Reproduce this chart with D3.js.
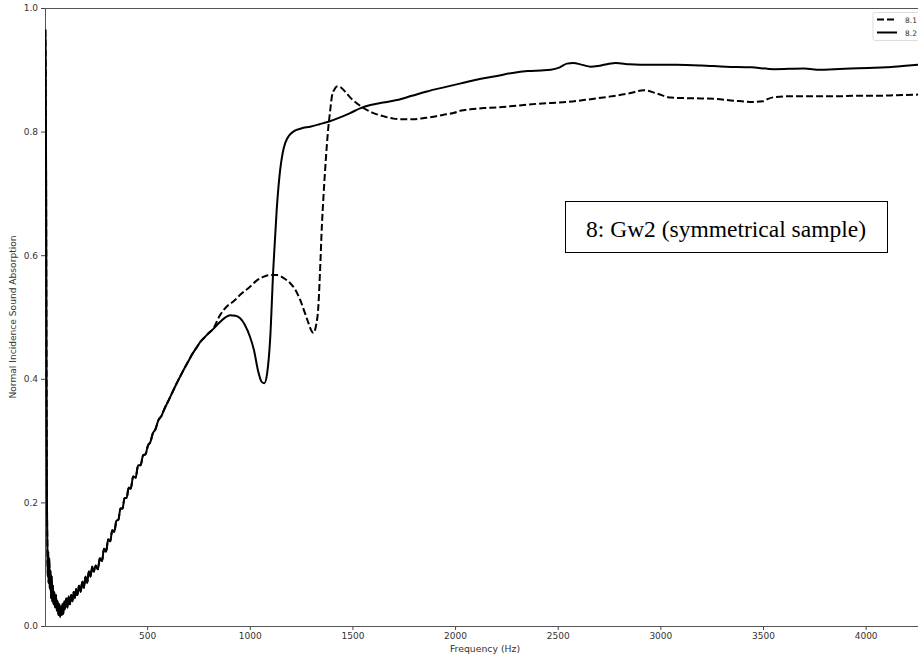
<!DOCTYPE html>
<html>
<head>
<meta charset="utf-8">
<script src="https://cdn.jsdelivr.net/npm/d3@7/dist/d3.min.js"></script>
<style>
  html, body { margin: 0; padding: 0; background: #fff; }
  svg { display: block; }
  .tick text { font-family: "DejaVu Sans", sans-serif; font-size: 9px; fill: #333; }
</style>
</head>
<body>
<svg id="chart" width="918" height="660"></svg>
<script>
// Low-frequency part, common to both measurements (Hz, absorption coefficient)
const sharedFreq = [4, 6, 8, 10, 12, 14, 16, 18, 20, 23, 26, 29, 32, 35, 38, 41, 44, 48, 52, 56, 60, 64, 68, 72, 76, 80, 84, 88, 92, 96,
  100, 106, 112, 118, 124, 130, 136, 142, 148, 154, 160, 168, 176, 184, 192, 200, 208, 216, 224, 232, 240, 250, 260, 270, 280, 290,
  300, 310, 320, 330, 340, 350, 360, 370, 380, 390, 400, 410, 420, 432, 444, 456, 468, 480, 492, 504, 516, 528, 540, 555, 570, 585,
  600, 620, 640, 660, 680, 700, 720, 740, 760, 780, 800, 820];
const sharedAbs = [0.965, 0.90, 0.70, 0.40, 0.20, 0.13, 0.08, 0.12, 0.07, 0.11, 0.06, 0.09, 0.045, 0.08, 0.04, 0.065, 0.035, 0.055, 0.03, 0.05,
  0.025, 0.04, 0.018, 0.035, 0.015, 0.032, 0.018, 0.036, 0.02, 0.04, 0.028, 0.045, 0.03, 0.048, 0.035, 0.05, 0.04, 0.055, 0.045, 0.06,
  0.05, 0.065, 0.055, 0.072, 0.062, 0.08, 0.07, 0.088, 0.08, 0.096, 0.088, 0.098, 0.092, 0.11, 0.105, 0.125, 0.12, 0.14, 0.137, 0.155,
  0.152, 0.17, 0.172, 0.19, 0.19, 0.207, 0.207, 0.224, 0.222, 0.242, 0.24, 0.26, 0.26, 0.276, 0.278, 0.292, 0.298, 0.312, 0.318, 0.333,
  0.34, 0.352, 0.362, 0.376, 0.39, 0.403, 0.416, 0.428, 0.44, 0.45, 0.46, 0.467, 0.474, 0.48];

// Sample 8.1 above 820 Hz
const s81Freq = [855, 888, 920, 960, 1001, 1030, 1066, 1100, 1131, 1165, 1196, 1220, 1245, 1265, 1286, 1300, 1310, 1322, 1334, 1343,
  1351, 1359, 1367, 1375, 1383, 1392, 1400, 1412, 1424, 1440, 1464, 1490, 1521, 1560, 1602, 1650, 1700, 1750, 1797, 1850, 1895, 1940,
  1992, 2030, 2073, 2140, 2204, 2300, 2400, 2549, 2650, 2759, 2850, 2920, 2980, 3051, 3150, 3261, 3360, 3456, 3500, 3525, 3560, 3603,
  3700, 3847, 3950, 4050, 4150, 4256, 4300];
const s81Abs = [0.503, 0.517, 0.525, 0.538, 0.549, 0.558, 0.565, 0.568, 0.568, 0.563, 0.555, 0.545, 0.528, 0.51, 0.49, 0.478, 0.474, 0.485,
  0.517, 0.58, 0.646, 0.695, 0.738, 0.776, 0.808, 0.835, 0.857, 0.868, 0.873, 0.872, 0.865, 0.855, 0.846, 0.837, 0.83, 0.825, 0.821,
  0.82, 0.82, 0.822, 0.824, 0.827, 0.83, 0.834, 0.836, 0.838, 0.839, 0.842, 0.845, 0.848, 0.852, 0.857, 0.862, 0.867, 0.862, 0.855,
  0.854, 0.853, 0.85, 0.848, 0.849, 0.853, 0.856, 0.857, 0.857, 0.857, 0.858, 0.858, 0.859, 0.86, 0.861];

// Sample 8.2 above 820 Hz
const s82Freq = [855, 880, 904, 930, 953, 975, 1001, 1020, 1041, 1058, 1071, 1085, 1099, 1115, 1131, 1148, 1160, 1172, 1190, 1212, 1250,
  1294, 1340, 1383, 1440, 1489, 1540, 1588, 1650, 1716, 1790, 1863, 1950, 2041, 2120, 2204, 2280, 2354, 2420, 2466, 2510, 2545, 2575,
  2620, 2660, 2695, 2740, 2783, 2850, 2954, 3080, 3198, 3320, 3442, 3554, 3700, 3780, 3847, 3930, 4012, 4100, 4180, 4256, 4300];
const s82Abs = [0.492, 0.499, 0.503, 0.502, 0.498, 0.488, 0.468, 0.447, 0.412, 0.395, 0.393, 0.41, 0.463, 0.581, 0.673, 0.738, 0.765,
  0.781, 0.793, 0.8, 0.805, 0.808, 0.812, 0.816, 0.823, 0.83, 0.838, 0.843, 0.847, 0.851, 0.858, 0.865, 0.872, 0.879, 0.885, 0.89,
  0.895, 0.898, 0.899, 0.9, 0.904, 0.91, 0.911, 0.908, 0.905, 0.906, 0.909, 0.911, 0.909, 0.908, 0.908, 0.907, 0.905, 0.904, 0.901,
  0.902, 0.9, 0.901, 0.902, 0.903, 0.904, 0.906, 0.908, 0.909];

const seriesNames = ["8.1", "8.2"];
const xTicks = [500, 1000, 1500, 2000, 2500, 3000, 3500, 4000];
const yTicks = [0.0, 0.2, 0.4, 0.6, 0.8, 1.0];
const titleText = "8: Gw2 (symmetrical sample)";

const toPoints = (fs, vs) => fs.map((f, i) => ({ f, v: vs[i] }));
const series = [
  { name: seriesNames[0], dash: "7,3", points: toPoints(sharedFreq.concat(s81Freq), sharedAbs.concat(s81Abs)) },
  { name: seriesNames[1], dash: null, points: toPoints(sharedFreq.concat(s82Freq), sharedAbs.concat(s82Abs)) }
];

const W = 918, H = 660;
const plotLeft = 45, plotTop = 8, plotBottom = 626;
const svg = d3.select("#chart");

const x = d3.scaleLinear().domain([0, 4260]).range([44.5, 919]);
const y = d3.scaleLinear().domain([0, 1]).range([plotBottom, plotTop]);

svg.append("defs").append("clipPath").attr("id", "plot-clip")
  .append("rect").attr("x", plotLeft).attr("y", plotTop).attr("width", W - plotLeft).attr("height", plotBottom - plotTop);

// Axes
const xAxis = svg.append("g").attr("transform", `translate(0,${plotBottom})`)
  .call(d3.axisBottom(x).tickValues(xTicks).tickSize(4).tickPadding(3).tickFormat(d3.format("d")));
const yAxis = svg.append("g").attr("transform", `translate(${plotLeft},0)`)
  .call(d3.axisLeft(y).tickValues(yTicks).tickSize(4).tickPadding(3).tickFormat(d3.format(".1f")));
[xAxis, yAxis].forEach(g => {
  g.select(".domain").remove();
  g.selectAll(".tick line").attr("stroke", "#444");
});

// Spines (left, top, bottom)
const spine = svg.append("g").attr("stroke", "#555").attr("stroke-width", 1).attr("shape-rendering", "crispEdges");
spine.append("line").attr("x1", plotLeft).attr("x2", plotLeft).attr("y1", plotTop).attr("y2", plotBottom);
spine.append("line").attr("x1", plotLeft).attr("x2", W).attr("y1", plotTop).attr("y2", plotTop);
spine.append("line").attr("x1", plotLeft).attr("x2", W).attr("y1", plotBottom).attr("y2", plotBottom);

// Axis titles
svg.append("text").attr("x", 485).attr("y", 652).attr("text-anchor", "middle")
  .attr("font-family", "DejaVu Sans, sans-serif").attr("font-size", 9.3).attr("fill", "#333")
  .text("Frequency (Hz)");
svg.append("text").attr("transform", `translate(16,${(plotTop + plotBottom) / 2}) rotate(-90)`).attr("text-anchor", "middle")
  .attr("font-family", "DejaVu Sans, sans-serif").attr("font-size", 9.1).attr("fill", "#333")
  .text("Normal Incidence Sound Absorption");

// Curves
const line = d3.line().x(d => x(d.f)).y(d => y(d.v)).curve(d3.curveMonotoneX);
const plot = svg.append("g").attr("clip-path", "url(#plot-clip)");
series.slice().reverse().forEach(s => {
  plot.append("path").datum(s.points)
    .attr("fill", "none").attr("stroke", "#000").attr("stroke-width", 2)
    .attr("stroke-linejoin", "round")
    .attr("stroke-dasharray", s.dash)
    .attr("d", line);
});

// Legend
const legend = svg.append("g");
legend.append("rect").attr("x", 873).attr("y", 12.5).attr("width", 60).attr("height", 28).attr("rx", 2)
  .attr("fill", "#fff").attr("stroke", "#ddd").attr("stroke-width", 1);
series.forEach((s, i) => {
  const ly = 19.5 + i * 13;
  legend.append("line").attr("x1", 877).attr("x2", 897).attr("y1", ly).attr("y2", ly)
    .attr("stroke", "#000").attr("stroke-width", 2).attr("stroke-dasharray", s.dash);
  legend.append("text").attr("x", 905).attr("y", ly + 3)
    .attr("font-family", "DejaVu Sans, sans-serif").attr("font-size", 7.5).attr("fill", "#333")
    .text(s.name);
});

// Annotation box
const note = svg.append("g");
note.append("rect").attr("x", 565.5).attr("y", 201.5).attr("width", 322).attr("height", 51)
  .attr("fill", "#fff").attr("stroke", "#000").attr("stroke-width", 1);
note.append("text").attr("x", 726).attr("y", 237).attr("text-anchor", "middle")
  .attr("font-family", "Liberation Serif, Times New Roman, serif").attr("font-size", 23.5).attr("fill", "#000")
  .text(titleText);
</script>
</body>
</html>
